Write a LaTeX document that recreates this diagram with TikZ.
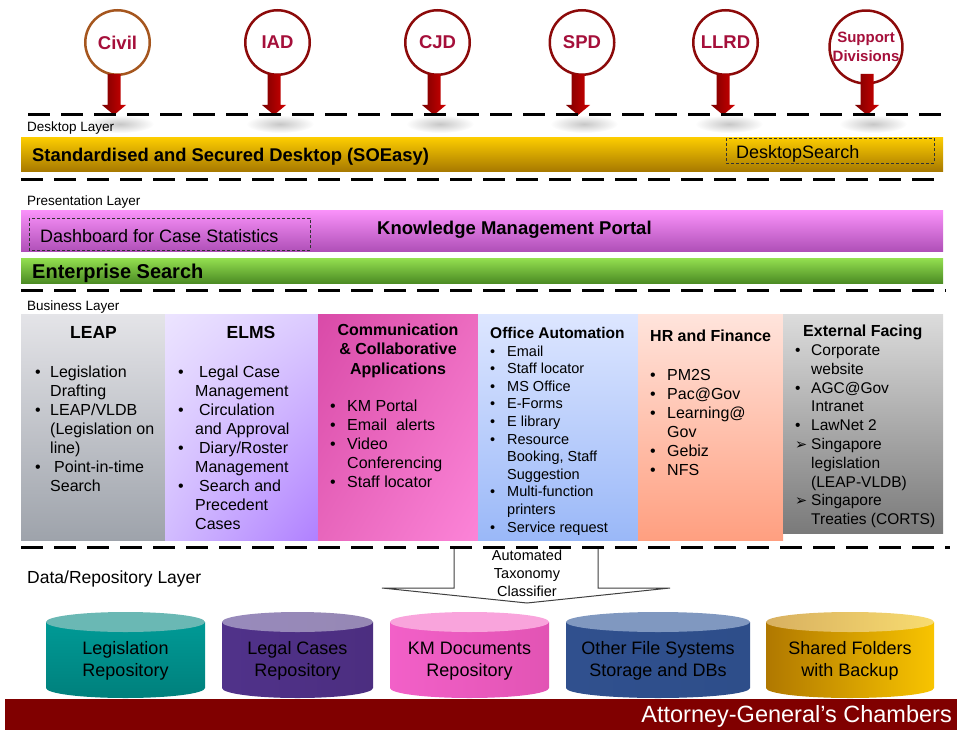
\documentclass[tikz,border=0pt]{standalone}
\usepackage{fontspec}
\setmainfont{Liberation Sans}
\newfontfamily\dejavu{DejaVu Sans}
\usepackage{array}
\usetikzlibrary{shadings}
\newcommand\fs[2]{\fontsize{#1}{#2}\selectfont}
\definecolor{orgred}{HTML}{8C0A0A}
\definecolor{orgbrown}{HTML}{A5561E}
\definecolor{orgtext}{HTML}{A50F3A}
\definecolor{arrdark}{HTML}{7A0000}
\definecolor{arrlight}{HTML}{D00000}
\definecolor{agcred}{HTML}{800000}
\definecolor{elA}{HTML}{ECE4FF}\definecolor{elB}{HTML}{DCCBFF}\definecolor{elC}{HTML}{D2BCFF}\definecolor{elD}{HTML}{B080FF}
\definecolor{cmA}{HTML}{D94AA8}\definecolor{cmB}{HTML}{EC6CC0}\definecolor{cmC}{HTML}{E866BC}\definecolor{cmD}{HTML}{FC84D8}
\definecolor{tealtop}{HTML}{6AB8B4}
\definecolor{pinktop}{HTML}{F9A4DC}
\begin{document}
\begin{tikzpicture}[x=1pt,y=-1pt]
\tikzset{
 dline/.style={line width=3pt, dash pattern=on 22pt off 11pt},
 dbox/.style={draw=black!80, line width=0.8pt, dash pattern=on 3pt off 2pt},
 org/.style={circle, draw=orgred, line width=2.5pt, fill=white, minimum size=64.5pt, inner sep=0pt, text=orgtext, font=\bfseries\fs{18.5}{20}},
 lbl/.style={anchor=base west, inner sep=0pt, font=\fs{13.5}{16}},
 col/.style={anchor=base west, inner sep=0pt},
 ctitle/.style={anchor=base, inner sep=0pt, font=\bfseries\fs{17.5}{20}},
 htitle/.style={anchor=base west, inner sep=0pt, font=\bfseries\fs{16}{19}},
 cyltext/.style={align=center, inner sep=0pt, font=\fs{18}{22}},
 redarr/.style={left color=arrdark, right color=arrlight},
}
\useasboundingbox (0,0) rectangle (957,730);

% ---- shadows under arrow tips
\foreach \x in {114,274,434,578,723,867}
  \shade[inner color=black!22, outer color=white] (\x+6,124) ellipse[x radius=34pt, y radius=9pt];

% ---- division circles
\node[org, draw=orgbrown] (civ) at (117.5,42.5) {Civil};
\node[org] (iad) at (277.5,42.5) {IAD};
\node[org] (cjd) at (437.5,42.5) {CJD};
\node[org] (spd) at (582,42.5) {SPD};
\node[org] (llrd) at (725.5,42.5) {LLRD};
\node[org, minimum size=71.5pt, font=\bfseries\fs{15}{19}, align=center] (sup) at (866,47) {Support\\Divisions};

% ---- red block arrows
\foreach \x in {114,274,434,578,723,867}
  \shade[redarr] (\x-6.5,74) -- (\x+6.5,74) -- (\x+6.5,105) -- (\x+12,105) -- (\x,115) -- (\x-12,105) -- (\x-6.5,105) -- cycle;

% ---- dashed layer lines
\draw[dline] (28,115) -- (946,115);
\draw[dline] (21,179) -- (940,179);
\draw[dline] (21,290) -- (946,290);

% ---- desktop layer
\node[lbl] (ldesk) at (27,132) {Desktop Layer};
\shade[top color={rgb,255:red,251;green,203;blue,0}, bottom color={rgb,255:red,168;green,122;blue,0}] (21,138) rectangle (943,171);
\node[col, font=\bfseries\fs{18.4}{20}] (soe) at (32,161) {Standardised and Secured Desktop (SOEasy)};
\draw[dbox] (726,138) rectangle (934,163);
\node[col, font=\fs{18}{20}] (dsearch) at (736,158.5) {DesktopSearch};

% ---- presentation layer
\node[lbl] (lpres) at (27,205) {Presentation Layer};
\shade[top color={rgb,255:red,250;green,146;blue,250}, bottom color={rgb,255:red,176;green,80;blue,184}] (21,210) rectangle (943,251);
\draw[dbox] (29,218) rectangle (310,250);
\node[col, font=\fs{18}{20}] (dash) at (40,242.5) {Dashboard for Case Statistics};
\node[col, font=\bfseries\fs{18.5}{20}] (kmp) at (377,234.5) {Knowledge Management Portal};
\shade[top color={rgb,255:red,148;green,224;blue,80}, bottom color={rgb,255:red,76;green,140;blue,36}] (21,258) rectangle (943,283);
\node[col, font=\bfseries\fs{20}{22}] (es) at (32,278) {Enterprise Search};

% ---- business layer
\node[lbl] (lbus) at (27,310) {Business Layer};
\shade[top color={rgb,255:red,228;green,228;blue,232}, bottom color={rgb,255:red,158;green,163;blue,171}] (21,314) rectangle (165,540);
\shade[upper left=elA, upper right=elB, lower left=elC, lower right=elD] (165,314) rectangle (318,540);
\shade[upper left=cmA, upper right=cmB, lower left=cmC, lower right=cmD] (318,314) rectangle (478,540);
\shade[top color={rgb,255:red,221;green,230;blue,255}, bottom color={rgb,255:red,154;green,184;blue,248}] (478,314) rectangle (638,540);
\shade[top color={rgb,255:red,255;green,228;blue,220}, bottom color={rgb,255:red,255;green,159;blue,128}] (638,314) rectangle (783,540);
\shade[top color={rgb,255:red,220;green,220;blue,220}, bottom color={rgb,255:red,122;green,122;blue,122}] (783,314) rectangle (943,533);

\node[ctitle] (tleap) at (93.5,338) {LEAP};
\node[col, font=\fs{16}{19}] (cleap) at (35,377.5) {\begin{tabular}[t]{@{}p{15pt}@{}l@{}}
• & Legislation\\ & Drafting\\
• & LEAP/VLDB\\ & (Legislation on\\ & line)\\
• & \hspace*{4pt}Point-in-time\\ & Search\end{tabular}};

\node[ctitle] (telms) at (251,338) {ELMS};
\node[col, font=\fs{16}{19}] (celms) at (178,377.5) {\begin{tabular}[t]{@{}p{17pt}@{}l@{}}
• & \hspace*{4pt}Legal Case\\ & Management\\
• & \hspace*{4pt}Circulation\\ & and Approval\\
• & \hspace*{4pt}Diary/Roster\\ & Management\\
• & \hspace*{4pt}Search and\\ & Precedent\\ & Cases\end{tabular}};

\node[anchor=base, inner sep=0pt, font=\bfseries\fs{16}{19.5}] (tcomm) at (398,335) {\begin{tabular}[t]{@{}c@{}}Communication\\ \& Collaborative\\ Applications\end{tabular}};
\node[col, font=\fs{16}{19}] (ccomm) at (330,411.5) {\begin{tabular}[t]{@{}p{17pt}@{}l@{}}
• & KM Portal\\ • & Email\ \ alerts\\ • & Video\\ & Conferencing\\ • & Staff locator\end{tabular}};

\node[htitle, font=\bfseries\fs{15.5}{19}] (toa) at (490,338.5) {Office Automation};
\node[col, font=\fs{14.5}{17.6}] (coa) at (490,356) {\begin{tabular}[t]{@{}p{17pt}@{}l@{}}
• & Email\\ • & Staff locator\\ • & MS Office\\ • & E-Forms\\ • & E library\\
• & Resource\\ & Booking, Staff\\ & Suggestion\\ • & Multi-function\\ & printers\\ • & Service request\end{tabular}};

\node[htitle] (thr) at (650,341) {HR and Finance};
\node[col, font=\fs{16}{19}] (chr) at (650,380) {\begin{tabular}[t]{@{}p{17pt}@{}l@{}}
• & PM2S\\ • & Pac@Gov\\ • & Learning@\\ & Gov\\ • & Gebiz\\ • & NFS\end{tabular}};

\node[htitle] (text) at (803,336) {External Facing};
\node[col, font=\fs{15.5}{18.8}] (cext) at (795,355.5) {\begin{tabular}[t]{@{}p{16pt}@{}l@{}}
• & Corporate\\ & website\\ • & AGC@Gov\\ & Intranet\\ • & LawNet 2\\
{\dejavu\fs{14.5}{18.8}➢} & Singapore\\ & legislation\\ & (LEAP-VLDB)\\
{\dejavu\fs{14.5}{18.8}➢} & Singapore\\ & Treaties (CORTS)\end{tabular}};

% ---- taxonomy classifier arrow
\filldraw[fill=white, draw=black!75, line width=1pt] (454,547) -- (454,588) -- (382,588) -- (527,603) -- (670,588) -- (598,588) -- (598,547);
\draw[dline] (21,547) -- (950,547);
\node[align=center, inner sep=0pt, font=\fs{14.5}{18}] (tax) at (527,573) {Automated\\Taxonomy\\Classifier};

% ---- data layer
\node[col, font=\fs{17.5}{20}] (ldata) at (27,583) {Data/Repository Layer};

% Legislation
\shade[top color={rgb,255:red,0;green,154;blue,150}, bottom color={rgb,255:red,0;green,128;blue,124}] (46,622) -- (46,688) arc[start angle=180,end angle=360,x radius=79.5pt,y radius=10pt] -- (205,622) -- cycle;
\fill[fill=tealtop] (125.5,622) ellipse[x radius=79.5pt, y radius=10pt];
\node[cyltext] (r1) at (125.5,661) {Legislation\\Repository};
% Legal cases
\shade[left color={rgb,255:red,80;green,50;blue,138}, middle color={rgb,255:red,158;green,108;blue,255}, right color={rgb,255:red,76;green,46;blue,128}] (222,622) -- (222,688) arc[start angle=180,end angle=360,x radius=75.5pt,y radius=10pt] -- (373,622) -- cycle;
\shade[left color={rgb,255:red,152;green,138;blue,188}, middle color={rgb,255:red,202;green,178;blue,255}, right color={rgb,255:red,150;green,136;blue,180}] (297.5,622) ellipse[x radius=75.5pt, y radius=10pt];
\node[cyltext] (r2) at (297.5,661) {Legal Cases\\Repository};
% KM docs
\shade[left color={rgb,255:red,242;green,96;blue,200}, right color={rgb,255:red,226;green,84;blue,180}] (390,622) -- (390,688) arc[start angle=180,end angle=360,x radius=79.5pt,y radius=10pt] -- (549,622) -- cycle;
\fill[fill=pinktop] (469.5,622) ellipse[x radius=79.5pt, y radius=10pt];
\node[cyltext] (r3) at (469.5,661) {KM Documents\\Repository};
% Other FS
\shade[left color={rgb,255:red,48;green,80;blue,142}, middle color={rgb,255:red,108;green,158;blue,255}, right color={rgb,255:red,46;green,78;blue,138}] (566,622) -- (566,688) arc[start angle=180,end angle=360,x radius=92pt,y radius=10pt] -- (750,622) -- cycle;
\shade[left color={rgb,255:red,128;green,152;blue,192}, middle color={rgb,255:red,168;green,196;blue,248}, right color={rgb,255:red,128;green,152;blue,192}] (658,622) ellipse[x radius=92pt, y radius=10pt];
\node[cyltext] (r4) at (658,661) {Other File Systems\\Storage and DBs};
% Shared folders
\shade[left color={rgb,255:red,176;green,120;blue,0}, right color={rgb,255:red,248;green,196;blue,0}] (766,622) -- (766,688) arc[start angle=180,end angle=360,x radius=84pt,y radius=10pt] -- (934,622) -- cycle;
\shade[left color={rgb,255:red,216;green,176;blue,96}, right color={rgb,255:red,248;green,220;blue,112}] (850,622) ellipse[x radius=84pt, y radius=10pt];
\node[cyltext] (r5) at (850,661) {Shared Folders\\with Backup};

% ---- footer band
\fill[agcred] (5,699) rectangle (957,730);
\node[anchor=base east, inner sep=0pt, text=white, font=\fs{23.5}{25}] (agc) at (952,722) {Attorney-General’s Chambers};
\end{tikzpicture}
\end{document}
